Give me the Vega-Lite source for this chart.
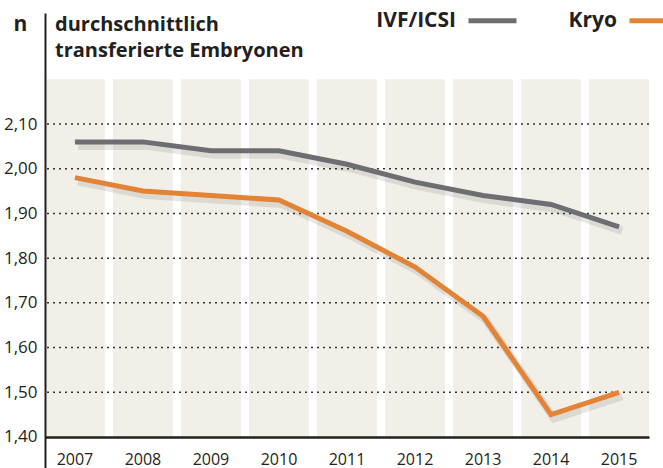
{
  "$schema": "https://vega.github.io/schema/vega-lite/v6.json",
  "width": 604,
  "height": 455,
  "autosize": "none",
  "padding": {"left": 45, "top": 13, "right": 14, "bottom": 0},
  "background": "#ffffff",
  "config": {"view": {"stroke": null}, "font": "Open Sans"},
  "title": {
    "text": ["durchschnittlich", "transferierte Embryonen"],
    "anchor": "start",
    "frame": "group",
    "font": "Open Sans",
    "fontSize": 20,
    "fontWeight": "bold",
    "color": "#231f20",
    "lineHeight": 26,
    "offset": 0,
    "dx": 10,
    "dy": 67
  },
  "datasets": {
    "series": [
      {"year": "2007", "serie": "IVF/ICSI", "value": 2.06},
      {"year": "2008", "serie": "IVF/ICSI", "value": 2.06},
      {"year": "2009", "serie": "IVF/ICSI", "value": 2.04},
      {"year": "2010", "serie": "IVF/ICSI", "value": 2.04},
      {"year": "2011", "serie": "IVF/ICSI", "value": 2.01},
      {"year": "2012", "serie": "IVF/ICSI", "value": 1.97},
      {"year": "2013", "serie": "IVF/ICSI", "value": 1.94},
      {"year": "2014", "serie": "IVF/ICSI", "value": 1.92},
      {"year": "2015", "serie": "IVF/ICSI", "value": 1.87},
      {"year": "2007", "serie": "Kryo", "value": 1.98},
      {"year": "2008", "serie": "Kryo", "value": 1.95},
      {"year": "2009", "serie": "Kryo", "value": 1.94},
      {"year": "2010", "serie": "Kryo", "value": 1.93},
      {"year": "2011", "serie": "Kryo", "value": 1.86},
      {"year": "2012", "serie": "Kryo", "value": 1.78},
      {"year": "2013", "serie": "Kryo", "value": 1.67},
      {"year": "2014", "serie": "Kryo", "value": 1.45},
      {"year": "2015", "serie": "Kryo", "value": 1.50}
    ],
    "grid": [
      {"g": 1.5}, {"g": 1.6}, {"g": 1.7}, {"g": 1.8}, {"g": 1.9}, {"g": 2.0}, {"g": 2.1}
    ]
  },
  "layer": [
    {
      "data": {"name": "series"},
      "transform": [{"filter": "datum.serie === 'Kryo'"}],
      "mark": {"type": "bar", "color": "#f2efe8"},
      "encoding": {
        "x": {
          "field": "year",
          "type": "ordinal",
          "scale": {"paddingInner": 0.12, "paddingOuter": 0},
          "axis": {
            "title": null,
            "labelAngle": 0,
            "labelFontSize": 16,
            "labelColor": "#231f20",
            "labelPadding": 14,
            "ticks": false,
            "domainColor": "#231f20",
            "domainWidth": 2.5,
            "offset": -31,
            "zindex": 1
          }
        },
        "y": {
          "datum": 2.2,
          "type": "quantitative",
          "scale": {"domain": [1.3306, 2.3483], "nice": false, "zero": false},
          "axis": {
            "values": [1.4, 1.5, 1.6, 1.7, 1.8, 1.9, 2.0, 2.1],
            "format": ".2f",
            "labelExpr": "replace(datum.label, '.', ',')",
            "labelFontSize": 17,
            "labelColor": "#231f20",
            "labelPadding": 8,
            "ticks": false,
            "grid": false,
            "domainColor": "#231f20",
            "domainWidth": 2,
            "zindex": 1,
            "title": "n",
            "titleAngle": 0,
            "titleX": -25,
            "titleY": 17,
            "titleAlign": "center",
            "titleBaseline": "alphabetic",
            "titleFontSize": 21,
            "titleFontWeight": "bold",
            "titleColor": "#231f20"
          }
        },
        "y2": {"datum": 1.4}
      }
    },
    {
      "data": {"name": "grid"},
      "mark": {"type": "rule", "color": "#333333", "strokeWidth": 1.5, "strokeDash": [2, 4]},
      "encoding": {"y": {"field": "g", "type": "quantitative"}}
    },
    {
      "data": {"name": "series"},
      "mark": {"type": "line", "strokeWidth": 8, "color": "#000000", "opacity": 0.09, "xOffset": 3, "yOffset": 4},
      "encoding": {
        "x": {"field": "year", "type": "ordinal"},
        "y": {"field": "value", "type": "quantitative"},
        "detail": {"field": "serie"}
      }
    },
    {
      "data": {"name": "series"},
      "mark": {"type": "line", "strokeWidth": 5},
      "encoding": {
        "x": {"field": "year", "type": "ordinal"},
        "y": {"field": "value", "type": "quantitative"},
        "color": {
          "field": "serie",
          "type": "nominal",
          "scale": {"domain": ["IVF/ICSI", "Kryo"], "range": ["#6d6e72", "#e38335"]},
          "legend": {
            "orient": "none",
            "legendX": 421,
            "legendY": -19,
            "direction": "horizontal",
            "title": null,
            "symbolType": "stroke",
            "symbolSize": 2304,
            "symbolStrokeWidth": 5,
            "labelAlign": "right",
            "labelOffset": -63,
            "labelFontSize": 21,
            "labelFont": "Open Sans",
            "labelFontWeight": "bold",
            "labelColor": "#231f20",
            "columnPadding": 41
          }
        }
      }
    }
  ]
}
